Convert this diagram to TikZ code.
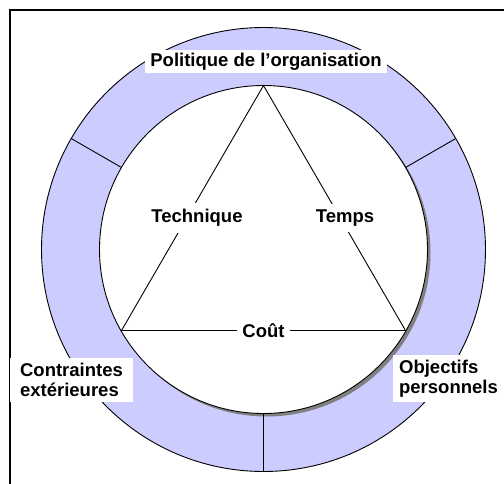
\documentclass[tikz,border=0pt]{standalone}
\usepackage{fontspec}
\setmainfont{Liberation Sans}
\definecolor{ringfill}{RGB}{204,204,255}
\definecolor{shadowgray}{RGB}{128,128,128}
\tikzset{
  lbl/.style={fill=white, font=\fontsize{18.5}{20}\selectfont\bfseries, inner xsep=5pt, inner ysep=6pt},
  boxlbl/.style={fill=white, font=\fontsize{18.5}{20}\selectfont\bfseries, align=left, inner sep=0pt},
  thin line/.style={line width=0.9pt, black},
}
\begin{document}
\begin{tikzpicture}[x=1pt, y=-1pt]
\useasboundingbox (0,0) rectangle (504,484);
\fill[white] (0,0) rectangle (504,484);
% frame
\draw[line width=1.6pt] (10,484) -- (10,10) -- (504,10);
% ring
\coordinate (O) at (263.5,249.5);
\fill[ringfill] (O) circle (222);
\draw[thin line] (O) circle (222);
% shadow of inner disc
\fill[shadowgray] (266.5,252.5) circle (164);
\fill[white] (O) circle (164);
\draw[thin line] (O) circle (164);
% dividers
\coordinate (d1i) at (121.5,167.5); \coordinate (d1o) at (71.2,138.5);
\coordinate (d2i) at (405.5,167.5); \coordinate (d2o) at (455.8,138.5);
\coordinate (d3i) at (263.5,413.5); \coordinate (d3o) at (263.5,471.5);
\draw[thin line] (d1i) -- (d1o);
\draw[thin line] (d2i) -- (d2o);
\draw[thin line] (d3i) -- (d3o);
% triangle
\coordinate (A) at (263.5,85.5);
\coordinate (B) at (121.5,330.5);
\coordinate (C) at (405.5,330.5);
\draw[thin line] (A) -- (B) -- (C) -- cycle;
\node[lbl] (tech) at (197,218) {Technique};
\node[lbl] (temps) at (345,218) {Temps};
\node[lbl] (cout) at (263.5,330.5) {Coût};
% outer labels
\node[boxlbl, minimum width=242pt, minimum height=23pt] (pol) at (266,61.5) {Politique de l’organisation};
\node[boxlbl, minimum width=123pt, minimum height=44pt] (contr) at (71.5,380) {Contraintes\\extérieures};
\node[boxlbl, minimum width=111pt, minimum height=47pt] (obj) at (448.5,378.5) {Objectifs\\personnels};
\end{tikzpicture}
\end{document}
